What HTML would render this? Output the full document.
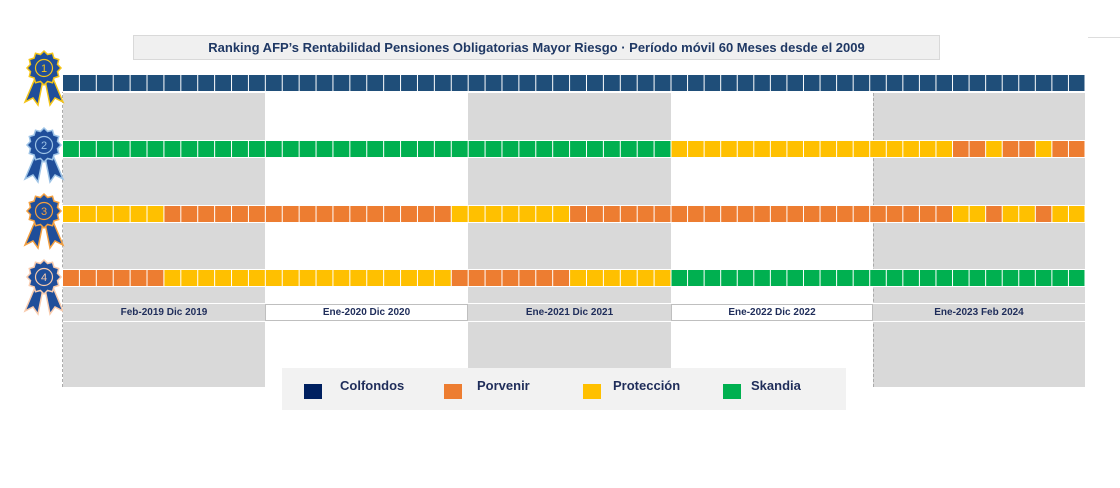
<!DOCTYPE html>
<html><head><meta charset="utf-8"><style>
body{margin:0;width:1120px;height:488px;background:#fff;position:relative;overflow:hidden;font-family:"Liberation Sans",sans-serif}
.a{position:absolute}
.lab{position:absolute;top:303px;height:19px;font:bold 10px "Liberation Sans",sans-serif;color:#1f2d5a;text-align:center;line-height:17px;box-sizing:border-box}
.lt{position:absolute;top:378px;font:bold 13px "Liberation Sans",sans-serif;color:#1f2d5a}
.sq{position:absolute;top:384px;width:18px;height:15px}
</style></head><body>
<div class="a" style="left:133px;top:35px;width:807px;height:25px;background:#f0f0f0;border:1px solid #d9d9d9;box-sizing:border-box;font:bold 13px 'Liberation Sans',sans-serif;color:#1f3864;text-align:center;line-height:24px">Ranking AFP’s Rentabilidad Pensiones Obligatorias Mayor Riesgo · Período móvil 60 Meses desde el 2009</div>
<div class="a" style="left:1088px;top:37px;width:32px;height:1px;background:#ddd"></div>
<div class="a" style="left:63px;top:93px;width:202px;height:294px;background:#d9d9d9"></div>
<div class="a" style="left:468px;top:93px;width:203px;height:275px;background:#d9d9d9"></div>
<div class="a" style="left:873px;top:93px;width:212px;height:294px;background:#d9d9d9"></div>
<div class="a" style="left:62px;top:85px;height:302px;border-left:1px dashed #aaa"></div>
<div class="a" style="left:873px;top:93px;height:294px;border-left:1px dashed #aaa"></div>
<svg class="a" style="left:0;top:0" width="1120" height="488" id="g"></svg>
<div class="lab" style="left:63px;width:202px;background:#d9d9d9;border-top:1px solid #fff;border-bottom:1px solid #fff">Feb-2019 Dic 2019</div>
<div class="lab" style="left:265px;width:203px;background:#fff;border:1px solid #bfbfbf;top:304px;height:17px;line-height:15px">Ene-2020 Dic 2020</div>
<div class="lab" style="left:468px;width:203px;background:#d9d9d9;border-top:1px solid #fff;border-bottom:1px solid #fff">Ene-2021 Dic 2021</div>
<div class="lab" style="left:671px;width:202px;background:#fff;border:1px solid #bfbfbf;top:304px;height:17px;line-height:15px">Ene-2022 Dic 2022</div>
<div class="lab" style="left:873px;width:212px;background:#d9d9d9;border-top:1px solid #fff;border-bottom:1px solid #fff">Ene-2023 Feb 2024</div>
<div class="a" style="left:282px;top:368px;width:564px;height:42px;background:#f2f2f2"></div>
<div class="sq" style="left:304px;background:#002060"></div><div class="lt" style="left:340px">Colfondos</div>
<div class="sq" style="left:444px;background:#ed7d31"></div><div class="lt" style="left:477px">Porvenir</div>
<div class="sq" style="left:583px;background:#ffc000"></div><div class="lt" style="left:613px">Protección</div>
<div class="sq" style="left:723px;background:#00b050"></div><div class="lt" style="left:751px">Skandia</div>
<script>
var C={N:'#1f4e79',G:'#00b050',Y:'#ffc000',O:'#ed7d31'};
function rep(c,n){return Array(n).fill(c)}
var rows=[
[75,rep('N',61)],
[141,[].concat(rep('G',36),rep('Y',17),['O','O','Y','O','O','Y','O','O'])],
[206,[].concat(rep('Y',6),rep('O',17),rep('Y',7),rep('O',23),['Y','Y','O','Y','Y','O','Y','Y'])],
[270,[].concat(rep('O',6),rep('Y',17),rep('O',7),rep('Y',6),rep('G',25))]];
function cx(i){return i<=36?62.5+i*(608.5/36):671+(i-36)*(414/25);}
var s='';
rows.forEach(function(r){
 s+='<rect x="62" y="'+(r[0]-1)+'" width="1024" height="18" fill="#fff"/>';
 r[1].forEach(function(c,i){var a=cx(i),b=cx(i+1);s+='<rect x="'+(a+0.5).toFixed(2)+'" y="'+r[0]+'" width="'+(b-a-1).toFixed(2)+'" height="16" fill="'+C[c]+'"/>';});
});
var med=[[44,68,'#f5c518','1'],[44,145,'#9dc3e6','2'],[44,211,'#f4a040','3'],[44,277,'#f8cbad','4']];
med.forEach(function(m){
 var x=m[0],y=m[1],b=m[2],p='';
 for(var k=0;k<24;k++){var a=k*Math.PI/12,r=k%2?14:17;p+=(x+r*Math.sin(a)).toFixed(1)+','+(y-r*Math.cos(a)).toFixed(1)+' ';}
 s+='<polygon points="'+(x-8)+','+(y+8)+' '+(x-19)+','+(y+34)+' '+(x-11)+','+(y+30)+' '+(x-6)+','+(y+37)+' '+(x-1)+','+(y+12)+'" fill="#1f4e9a" stroke="'+b+'" stroke-width="1.5"/>';
 s+='<polygon points="'+(x+8)+','+(y+8)+' '+(x+19)+','+(y+34)+' '+(x+11)+','+(y+30)+' '+(x+6)+','+(y+37)+' '+(x+1)+','+(y+12)+'" fill="#1f4e9a" stroke="'+b+'" stroke-width="1.5"/>';
 s+='<polygon points="'+p+'" fill="#1f4e9a" stroke="'+b+'" stroke-width="1.5"/>';
 s+='<circle cx="'+x+'" cy="'+y+'" r="8.5" fill="none" stroke="'+b+'" stroke-width="1.2"/>';
 s+='<text x="'+x+'" y="'+(y+4)+'" font-size="11" text-anchor="middle" fill="'+b+'" font-family="Liberation Sans">'+m[3]+'</text>';
});
document.getElementById('g').innerHTML=s;
</script>
</body></html>
